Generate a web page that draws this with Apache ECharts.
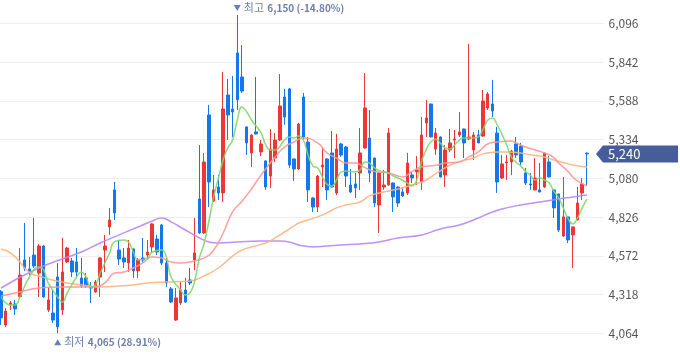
<!DOCTYPE html>
<html><head><meta charset="utf-8">
<script src="https://cdn.jsdelivr.net/npm/echarts@6/dist/echarts.min.js"></script>
<style>html,body{margin:0;padding:0;background:#fff}#c{width:680px;height:358px}</style>
</head><body><div id="c"></div>
<script>
// ---- data ----
const opens = [4337,4119,4250,4256,4304,4545,4486,4577,4459,4636,4217,4197,4433,4217,4532,4538,4532,4427,4427,4368,
4335,4433,4610,4761,5004,4610,4558,4525,4617,4473,4558,4577,4630,4682,4774,4525,4355,4151,4263,4348,
4414,4545,4945,4722,5495,4931,5023,4984,5626,5534,5902,5744,5417,5246,5384,5253,5194,5095,5213,5331,
5613,5666,5207,5141,5613,5318,4951,4892,5154,5207,5246,4984,5305,5285,5036,5043,5115,5279,5344,5213,
4905,5023,5036,5049,5023,4990,4984,5102,5122,5056,5443,5567,5272,5351,5102,5266,5331,5364,5403,5338,
5266,5364,5357,5541,5567,5377,5082,5180,5187,5305,5292,5115,5043,5004,5004,5023,5187,5004,4977,4702,
4827,4709,4807,4984,5245];
const highs = [4348,4230,4276,4283,4623,4787,4564,4820,4650,4643,4361,4348,4525,4689,4630,4558,4623,4558,4459,4400,
4414,4564,4709,4886,5056,4676,4623,4676,4620,4558,4689,4676,4787,4709,4780,4558,4368,4361,4400,4427,
4492,4820,5298,5246,5561,5102,5102,5777,5731,5751,6150,5954,5420,5368,5744,5331,5197,5403,5377,5764,
5666,5672,5210,5443,5639,5351,4955,5102,5279,5210,5390,5371,5312,5292,5141,5115,5410,5770,5528,5216,
5118,5135,5410,5052,5026,5023,5246,5122,5226,5482,5594,5570,5410,5354,5298,5403,5397,5515,5406,5961,
5384,5397,5659,5646,5725,5417,5233,5233,5266,5351,5312,5148,5115,5213,5180,5249,5226,5007,4980,5089,
4830,4764,5023,5082,5250];
const lows = [4119,4106,4217,4184,4296,4473,4446,4492,4302,4296,4204,4132,4065,4184,4525,4433,4433,4361,4361,4263,
4330,4302,4466,4709,4807,4512,4492,4466,4427,4427,4525,4545,4597,4577,4512,4368,4263,4145,4250,4263,
4381,4479,4715,4715,4892,4925,4938,4925,5331,5351,5528,5639,5233,5154,5366,5226,5004,5017,5187,5325,
5430,5148,5063,5135,5331,4925,4859,4859,5023,4938,5020,4971,5220,5023,4984,4951,5004,5275,5056,4892,
4722,5004,5033,4859,4892,4958,4971,5049,5036,5004,5351,5348,5233,5085,5023,5253,5213,5351,5213,5331,
5200,5310,5351,5528,5482,4984,5076,5069,5102,5213,5167,5036,5004,5001,4988,5017,5085,4820,4728,4695,
4656,4492,4804,4938,5030];
const closes = [4165,4210,4263,4224,4446,4492,4466,4505,4636,4302,4283,4151,4106,4466,4623,4466,4466,4374,4374,4361,
4400,4558,4636,4807,4853,4551,4532,4623,4473,4545,4545,4597,4781,4597,4525,4394,4269,4296,4348,4269,
4394,4591,4722,5187,5056,5004,4984,5534,5495,5515,5594,5652,5312,5364,5371,5305,5023,5272,5331,5554,
5482,5167,5141,5436,5351,5004,4892,5095,5167,5004,5023,5272,5233,5095,4990,5017,5246,5541,5115,4918,
5115,5036,5377,4958,4918,4964,5180,5082,5135,5364,5476,5351,5377,5089,5266,5312,5338,5384,5312,5351,
5364,5312,5587,5633,5521,5056,5174,5187,5259,5233,5187,5049,5036,5082,4990,5246,5089,4886,4741,4827,
4676,4761,4918,5043,5240];

// moving averages, [candle index, value] read at sample points
const ma5 = [[0,4302],[2,4250],[3,4250],[4,4302],[6,4433],[8,4499],[9,4479],[10,4394],[12,4302],[13,4269],[14,4328],[16,4433],[17,4466],[18,4433],[19,4368],[20,4381],[21,4459],[23,4591],[24,4663],[26,4676],[27,4663],[28,4597],[29,4545],[31,4558],[32,4597],[34,4610],[35,4564],[36,4433],[38,4348],[39,4315],[40,4328],[41,4410],[42,4560],[43,4656],[44,4800],[45,4958],[46,5080],[47,5200],[48,5280],[49,5331],[50,5462],[51,5548],[52,5515],[53,5462],[55,5380],[56,5300],[57,5266],[58,5266],[60,5330],[61,5350],[62,5344],[63,5357],[64,5331],[65,5230],[66,5161],[67,5148],[68,5090],[69,5040],[70,5030],[71,5069],[72,5122],[73,5128],[75,5122],[76,5135],[77,5187],[78,5180],[79,5150],[80,5130],[82,5115],[83,5095],[84,5082],[86,5049],[87,5030],[88,5070],[89,5190],[90,5270],[91,5320],[92,5336],[93,5310],[94,5279],[95,5272],[96,5298],[97,5331],[98,5344],[99,5344],[100,5344],[101,5351],[102,5400],[103,5460],[104,5476],[105,5430],[106,5370],[107,5300],[108,5220],[109,5185],[110,5160],[111,5125],[112,5100],[113,5069],[114,5082],[115,5069],[116,5049],[117,4995],[118,4951],[119,4885],[120,4815],[121,4781],[122,4820],[123,4886],[124,4945]];
const ma20 = [[0,4309],[4,4335],[8,4361],[12,4368],[17,4368],[20,4368],[22,4394],[24,4459],[26,4466],[28,4492],[30,4525],[32,4564],[34,4558],[36,4532],[38,4525],[40,4532],[43,4558],[45,4610],[47,4720],[49,4860],[51,4930],[53,5010],[55,5100],[58,5220],[60,5285],[62,5318],[64,5344],[67,5312],[69,5246],[71,5213],[73,5180],[75,5180],[77,5150],[79,5125],[82,5115],[84,5095],[85,5089],[87,5125],[89,5154],[92,5165],[94,5180],[97,5187],[99,5220],[101,5253],[103,5305],[105,5318],[108,5325],[109,5312],[111,5285],[113,5266],[115,5246],[117,5215],[118,5180],[120,5125],[121,5089],[122,5062],[124,5030]];
const ma60 = [[0,4617],[2,4591],[4,4532],[5,4492],[7,4446],[8,4440],[10,4420],[14,4394],[17,4381],[21,4368],[25,4374],[28,4381],[31,4394],[35,4400],[40,4407],[41,4414],[43,4440],[46,4492],[49,4570],[51,4610],[53,4630],[56,4656],[58,4689],[60,4728],[62,4768],[63,4787],[67,4827],[69,4853],[71,4886],[73,4905],[76,4925],[78,4965],[81,4990],[84,5010],[87,5036],[90,5069],[92,5110],[96,5180],[100,5213],[102,5240],[105,5253],[107,5253],[110,5246],[112,5235],[115,5220],[117,5200],[119,5183],[121,5167],[124,5154]];
const ma120 = [[0,4361],[8,4492],[17,4597],[21,4656],[25,4709],[29,4761],[32,4800],[34,4820],[36,4794],[39,4741],[42,4689],[44,4663],[46,4656],[50,4663],[55,4669],[59,4669],[61,4663],[63,4643],[66,4630],[69,4636],[72,4643],[76,4650],[80,4663],[84,4689],[89,4709],[93,4748],[97,4774],[101,4820],[104,4859],[107,4886],[110,4905],[114,4925],[118,4945],[121,4958],[124,4971]];

const yTicks = [4064,4318,4572,4826,5080,5334,5588,5842,6096];
const padSlots = 3;
const categories = opens.map((_, i) => 'D' + (i + 1)).concat(Array.from({length: padSlots}, (_, i) => 'P' + i));

// ---- style ----
const UP = '#ef3535', DOWN = '#1477ee';
const MK = '#6e7dad', TAG = '#475d99';
const FONT = "'Noto Sans CJK KR','Noto Sans',sans-serif";
const fmt = v => v.toLocaleString('en-US');

const step = yTicks[1] - yTicks[0];
const last = closes[closes.length - 1];
const maxH = Math.max(...highs), minL = Math.min(...lows);
const maxIdx = highs.indexOf(maxH), minIdx = lows.indexOf(minL);
const pct = ref => ((last - ref) / ref * 100).toFixed(2) + '%';

const chart = echarts.init(document.getElementById('c'), null, {renderer: 'canvas'});
const rich = {
  a: {color: MK, fontSize: 11, fontFamily: FONT},
  b: {color: MK, fontSize: 10, fontFamily: FONT, fontWeight: 'bold'}
};
const lineS = (data, color) => ({
  type: 'line', data, smooth: true, showSymbol: false, silent: true,
  lineStyle: {color, width: 1.5, opacity: 0.9}, z: 3
});
chart.setOption({
  animation: false,
  grid: {left: -1.36, right: 76.5, top: -15.45, bottom: -14.05, containLabel: false, outerBoundsMode: 'none'},
  xAxis: {
    type: 'category', data: categories, boundaryGap: true,
    axisLine: {show: false}, axisTick: {show: false}, axisLabel: {show: false}, splitLine: {show: false}
  },
  yAxis: {
    type: 'value', position: 'right',
    min: yTicks[0] - step, max: yTicks[yTicks.length - 1] + step, interval: step,
    axisLine: {show: false}, axisTick: {show: false},
    axisLabel: {margin: 5, color: '#555', fontSize: 12, fontFamily: FONT, formatter: v => fmt(v),
                showMinLabel: false, showMaxLabel: false},
    splitLine: {lineStyle: {color: '#eeeeee', width: 1}}
  },
  series: [
    {
      type: 'candlestick', barWidth: 3, z: 2,
      data: opens.map((o, i) => [o, closes[i], lows[i], highs[i]]),
      itemStyle: {color: UP, color0: DOWN, borderColor: UP, borderColor0: DOWN, borderWidth: 1},
      markPoint: {
        silent: true, animation: false,
        data: [
          {coord: [maxIdx, maxH], symbol: 'triangle', symbolRotate: 180, symbolSize: [7, 6], symbolOffset: [0, -7],
           itemStyle: {color: MK},
           label: {show: true, position: 'right', distance: 3, formatter: '{a|최고} {b|' + fmt(maxH) + ' (' + pct(maxH) + ')}', rich}},
          {coord: [minIdx, minL], symbol: 'triangle', symbolSize: [7, 6], symbolOffset: [0, 9],
           itemStyle: {color: MK},
           label: {show: true, position: 'right', distance: 3, formatter: '{a|최저} {b|' + fmt(minL) + ' (' + pct(minL) + ')}', rich}}
        ]
      }
    },
    lineS(ma120, '#b984f3'),
    lineS(ma60, '#ffb27c'),
    lineS(ma20, '#ff9393'),
    lineS(ma5, '#7fd66c')
  ]
});

// current price tag, placed through the y scale
const yPix = chart.convertToPixel({yAxisIndex: 0}, last);
const W = chart.getWidth();
const tip = W - 84, h = 8.5;
chart.setOption({
  graphic: [
    {type: 'polygon', silent: true, z: 10,
     shape: {points: [[tip, yPix], [tip + 7, yPix - h], [W - 2, yPix - h], [W - 2, yPix + h], [tip + 7, yPix + h]]},
     style: {fill: TAG}},
    {type: 'text', silent: true, z: 11, x: tip + 12, y: yPix,
     style: {text: fmt(last), fill: '#fff', font: '13px ' + FONT, verticalAlign: 'middle'}}
  ]
});
</script></body></html>
